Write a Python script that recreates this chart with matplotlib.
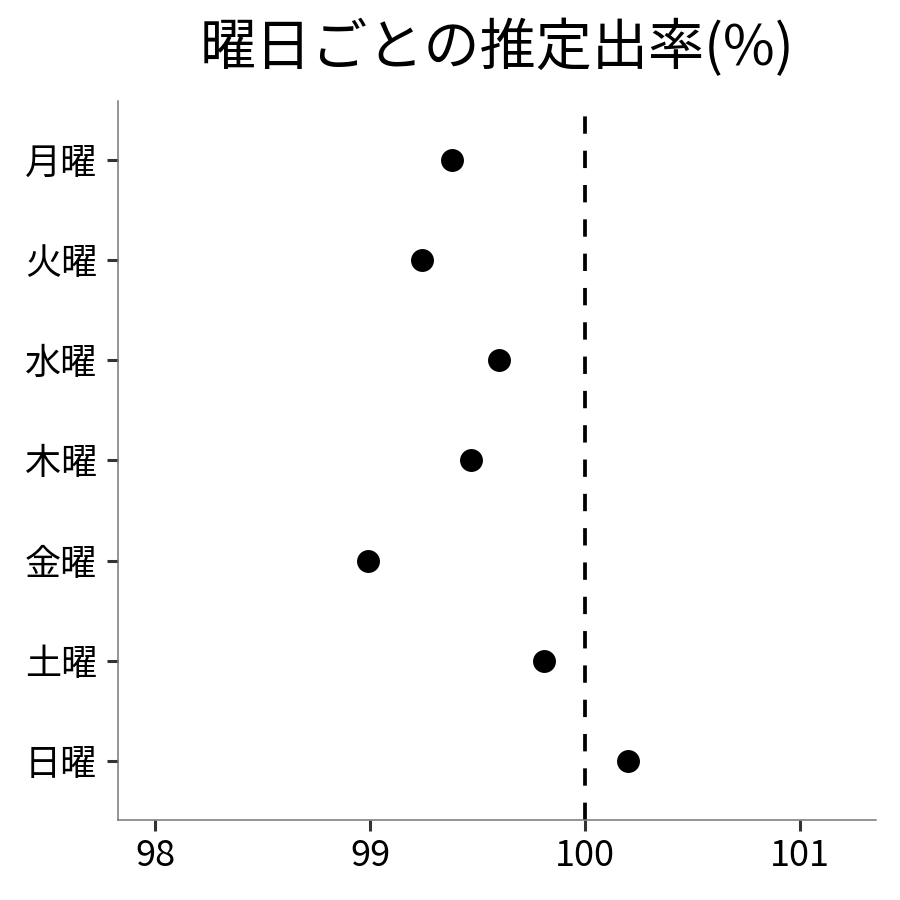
import matplotlib
matplotlib.use("Agg")
import matplotlib.pyplot as plt

plt.rcParams['font.family'] = ['Noto Sans CJK JP', 'DejaVu Sans']

# data (top to bottom)
days = ["月曜", "火曜", "水曜", "木曜", "金曜", "土曜", "日曜"]
rates = [99.38, 99.24, 99.60, 99.47, 98.99, 99.81, 100.20]
ref_line = 100
xticks = [98, 99, 100, 101]
title = "曜日ごとの推定出率(%)"

fig = plt.figure(figsize=(9, 9), dpi=100)
ax = fig.add_axes([118 / 900, 1 - 820 / 900, (876 - 118) / 900, (820 - 101) / 900])

ypos = list(range(len(days), 0, -1))
ax.scatter(rates, ypos, s=16.5 ** 2, color="black", zorder=3, linewidths=0)
ax.axvline(ref_line, color="black", lw=2.7, ls=(0, (4.63, 4.52)), zorder=2)

ax.set_xlim(97.828, 101.353)
ax.set_ylim(0.41, 7.59)
ax.set_xticks(xticks)
ax.set_xticklabels([str(t) for t in xticks])
ax.set_yticks(ypos)
ax.set_yticklabels(days)

for side in ("top", "right"):
    ax.spines[side].set_visible(False)
for side in ("left", "bottom"):
    ax.spines[side].set_color("#777777")
    ax.spines[side].set_linewidth(1.1)

ax.tick_params(axis="both", length=8, width=2.2, color="#333333",
               labelsize=26, labelcolor="black", pad=5)
ax.tick_params(axis="y", pad=7)

ax.set_title(title, fontsize=40.4, pad=26)

fig.savefig("out.png", dpi=100, facecolor="white")
